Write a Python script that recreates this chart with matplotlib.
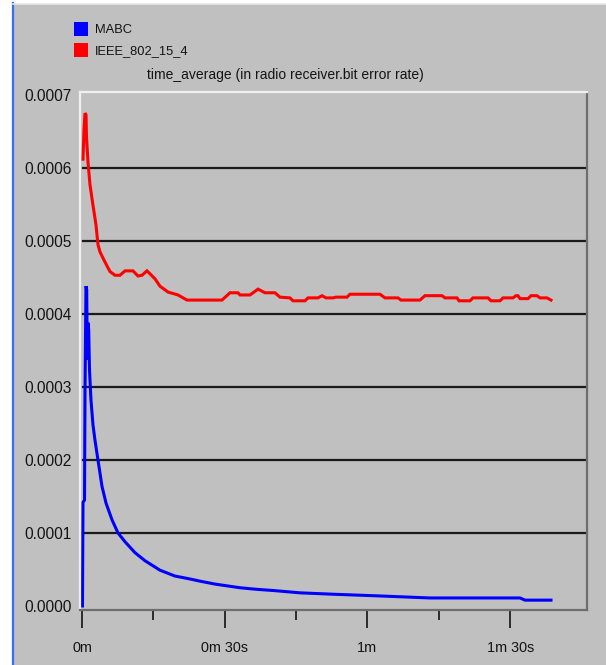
import matplotlib
matplotlib.use("Agg")
from matplotlib import pyplot as plt
from matplotlib.patches import Rectangle
from matplotlib.lines import Line2D

plt.rcParams['font.family'] = ['Liberation Sans', 'DejaVu Sans']

# time in seconds, bit error rate in units of 1e-4
ieee_t = [0.21, 0.32, 0.42, 0.63, 0.84, 0.95, 1.26, 1.68, 2.31, 2.94, 3.36,
          3.78, 4.84, 5.89, 6.94, 7.99, 9.04, 10.72, 11.77, 12.61, 13.66,
          14.29, 15.35, 16.40, 18.08, 20.18, 22.07, 29.43, 31.11, 32.79,
          33.21, 35.32, 37.00, 38.47, 40.57, 41.62, 43.72, 44.35, 46.88,
          47.51, 49.61, 50.45, 51.29, 52.76, 53.39, 55.71, 56.34, 62.64,
          63.70, 66.43, 67.06, 71.05, 72.10, 75.68, 76.31, 78.83, 79.25,
          81.56, 82.19, 85.35, 85.98, 87.87, 88.50, 90.60, 91.23, 91.65,
          92.07, 93.76, 94.39, 95.65, 96.28, 97.75, 98.59]
ieee_v = [6.12, 6.32, 6.52, 6.75, 6.73, 6.42, 6.08, 5.77, 5.49, 5.22, 4.95,
          4.85, 4.71, 4.58, 4.53, 4.53, 4.59, 4.59, 4.52, 4.53, 4.59,
          4.55, 4.48, 4.38, 4.30, 4.26, 4.19, 4.19, 4.29, 4.29,
          4.26, 4.26, 4.34, 4.29, 4.29, 4.23, 4.22, 4.18, 4.18,
          4.22, 4.22, 4.25, 4.22, 4.22, 4.23, 4.23, 4.27, 4.27,
          4.22, 4.22, 4.19, 4.19, 4.25, 4.25, 4.22, 4.22, 4.18,
          4.18, 4.22, 4.22, 4.18, 4.18, 4.22, 4.22, 4.25, 4.25,
          4.21, 4.21, 4.25, 4.25, 4.22, 4.22, 4.19]

mabc_t = [0.10, 0.21, 0.53, 0.63, 0.84, 0.99, 1.11, 1.26, 1.41, 1.58, 1.89,
          2.31, 2.73, 3.36, 4.20, 5.05, 6.31, 7.57, 9.04, 11.14, 13.24,
          16.40, 19.55, 22.70, 24.81, 27.96, 33.21, 36.37, 40.57, 45.83,
          53.19, 61.59, 73.16, 92.07, 93.13, 98.59]
mabc_v = [0.00, 1.42, 1.45, 2.92, 4.38, 4.33, 3.37, 3.88, 3.78, 3.23, 2.82,
          2.48, 2.27, 2.00, 1.64, 1.41, 1.18, 1.00, 0.88, 0.73, 0.62,
          0.49, 0.41, 0.37, 0.34, 0.30, 0.25, 0.23, 0.21, 0.18,
          0.16, 0.14, 0.11, 0.11, 0.08, 0.08]

xticks = [0, 30, 60, 90]
xtick_labels = ["0m", "0m 30s", "1m", "1m 30s"]
xminor = [15, 45, 75]
yticks = [0, 1, 2, 3, 4, 5, 6, 7]

W, H = 606, 665
gray = '#c0c0c0'
ink = '#141414'
fig = plt.figure(figsize=(W / 100, H / 100), dpi=100, facecolor='white')

# window background and borders
fig.patches.append(Rectangle((13 / W, 0), 1, 1 - 4 / H, transform=fig.transFigure,
                             facecolor=gray, edgecolor='none', zorder=-5))
fig.lines.append(Line2D([12.5 / W, 12.5 / W], [0, 1 - 3 / H], transform=fig.transFigure,
                        color='#3a6cf0', lw=1.6, zorder=-4))
fig.lines.append(Line2D([13 / W, 1], [1 - 3.5 / H, 1 - 3.5 / H], transform=fig.transFigure,
                        color='#e6e6e6', lw=1.2, zorder=-4))

ax = fig.add_axes([80 / W, 1 - 610 / H, 507 / W, 518 / H])
ax.set_facecolor(gray)

ax.plot(mabc_t, [v * 1e-4 for v in mabc_v], color='#0000ff', lw=2.2, label='MABC',
        solid_joinstyle='miter')
ax.plot(ieee_t, [v * 1e-4 for v in ieee_v], color='#ff0000', lw=2.2, label='IEEE_802_15_4',
        solid_joinstyle='miter')

ax.set_xlim(-0.42, 106.16)
ax.set_ylim(-0.055e-4, 7.04e-4)

ax.set_yticks([v * 1e-4 for v in yticks])
ax.set_yticklabels(["%.4f" % (v * 1e-4) for v in yticks])
for v in yticks[1:-1]:
    ax.axhline(v * 1e-4, xmin=3 / 507, color='#1a1a1a', lw=1.6, zorder=1)

ax.set_xticks(xticks)
ax.set_xticklabels(xtick_labels)
ax.set_xticks(xminor, minor=True)
ax.tick_params(axis='x', which='major', length=13, width=1.3, color='#202020',
               pad=9, labelsize=10.4, labelcolor=ink)
ax.tick_params(axis='x', which='minor', length=7, width=1.3, color='#202020')
ax.tick_params(axis='y', length=0, pad=6, labelsize=11.2, labelcolor=ink)

ax.spines['left'].set_color('#f0f0f0')
ax.spines['top'].set_color('#f0f0f0')
ax.spines['right'].set_color('#6e6e6e')
ax.spines['bottom'].set_color('#6e6e6e')
for s in ax.spines.values():
    s.set_linewidth(1.6)

fig.text(285 / W, 1 - 75 / H, "time_average (in radio receiver.bit error rate)",
         ha='center', va='center', fontsize=10, color=ink)

handles = [Rectangle((0, 0), 1, 1, facecolor='#0000ff', edgecolor='none'),
           Rectangle((0, 0), 1, 1, facecolor='#ff0000', edgecolor='none')]
fig.legend(handles, ['MABC', 'IEEE_802_15_4'], loc='upper left',
           bbox_to_anchor=(65 / W, 1 - 13 / H), frameon=False, fontsize=9.3,
           handlelength=1.1, handleheight=1.3, handletextpad=0.55,
           labelspacing=0.5, borderpad=0.2, labelcolor=ink)

fig.savefig("out.png", dpi=100, facecolor=fig.get_facecolor())
